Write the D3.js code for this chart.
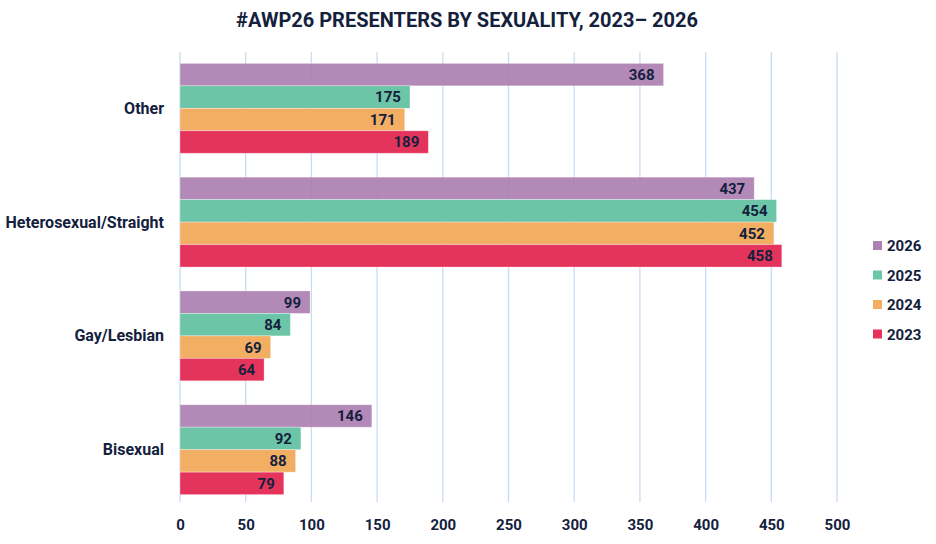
<!doctype html>
<html>
<head>
<meta charset="UTF-8">
<title>AWP26 presenters by sexuality</title>
<script src="https://d3js.org/d3.v7.min.js"></script>
<style>
  body { margin:0; background:#fff; }
  text { font-family: Roboto, "Noto Sans", sans-serif; font-weight:700; fill:#14213d; }
</style>
</head>
<body>
<script>
  var w = 936, h = 544;
  var categories = ["Other", "Heterosexual/Straight", "Gay/Lesbian", "Bisexual"];
  var years = ["2026", "2025", "2024", "2023"];
  var v2026 = [368, 437, 99, 146];
  var v2025 = [175, 454, 84, 92];
  var v2024 = [171, 452, 69, 88];
  var v2023 = [189, 458, 64, 79];
  var ticks = [0, 50, 100, 150, 200, 250, 300, 350, 400, 450, 500];
  var colors = ["#ad80b3", "#6cc5a6", "#f2ae63", "#e5345c"];
  var series = [v2026, v2025, v2024, v2023];

  var m = {left:180, right:99, top:52, bottom:38};
  var svg = d3.select("body").append("svg").attr("width", w).attr("height", h);

  var x = d3.scaleLinear().domain([0, 500]).range([m.left, w - m.right]);
  var y = d3.scaleBand().domain(categories).range([m.top, h - m.bottom]).paddingInner(0.21).paddingOuter(0.1);
  var y1 = d3.scaleBand().domain(years).range([0, y.bandwidth()]);

  // grid
  svg.append("g").selectAll("line").data(ticks).enter().append("line")
    .attr("x1", function(d){ return x(d); }).attr("x2", function(d){ return x(d); })
    .attr("y1", m.top).attr("y2", h - m.bottom - 4)
    .attr("stroke", "#cadcf2").attr("stroke-width", 1.3);

  // x axis
  var xa = svg.append("g").attr("transform", "translate(0," + (h - m.bottom - 4) + ")")
    .call(d3.axisBottom(x).tickValues(ticks).tickSize(0).tickPadding(17));
  xa.select(".domain").remove();
  xa.selectAll("text").style("font-size", "15px");

  // y labels
  svg.append("g").selectAll("text").data(categories).enter().append("text")
    .attr("x", m.left - 16).attr("y", function(d){ return y(d) + y.bandwidth() / 2; })
    .attr("dy", "0.35em").attr("text-anchor", "end").style("font-size", "16px")
    .text(function(d){ return d; });

  // bars
  var rows = [];
  categories.forEach(function(c, ci){
    years.forEach(function(yr, si){
      rows.push({cat:c, year:yr, value:series[si][ci], color:colors[si]});
    });
  });

  var bars = svg.append("g");
  bars.selectAll("rect").data(rows).enter().append("rect")
    .attr("x", x(0))
    .attr("y", function(d){ return y(d.cat) + y1(d.year); })
    .attr("width", function(d){ return x(d.value) - x(0); })
    .attr("height", y1.bandwidth())
    .attr("fill", function(d){ return d.color; })
    .attr("fill-opacity", function(d){ return d.year === "2026" ? 0.93 : 1; })
    .attr("stroke", "#fff").attr("stroke-opacity", 0.4).attr("stroke-width", 0.8);

  bars.selectAll("text").data(rows).enter().append("text")
    .attr("x", function(d){ return x(d.value) - 9; })
    .attr("y", function(d){ return y(d.cat) + y1(d.year) + y1.bandwidth() / 2; })
    .attr("dy", "0.36em").attr("text-anchor", "end").style("font-size", "15px")
    .text(function(d){ return d.value; });

  // title
  svg.append("text").attr("x", 467).attr("y", 27).attr("text-anchor", "middle")
    .style("font-size", "20px").text("#AWP26 PRESENTERS BY SEXUALITY, 2023– 2026");

  // legend
  var lg = svg.append("g").selectAll("g").data(years).enter().append("g")
    .attr("transform", function(d, i){ return "translate(873," + (246 + i * 29.5) + ")"; });
  lg.append("rect").attr("x", 0).attr("y", -5).attr("width", 9).attr("height", 9)
    .attr("fill", function(d, i){ return colors[i]; });
  lg.append("text").attr("x", 14).attr("dy", "0.35em").style("font-size", "15px")
    .text(function(d){ return d; });
</script>
</body>
</html>
